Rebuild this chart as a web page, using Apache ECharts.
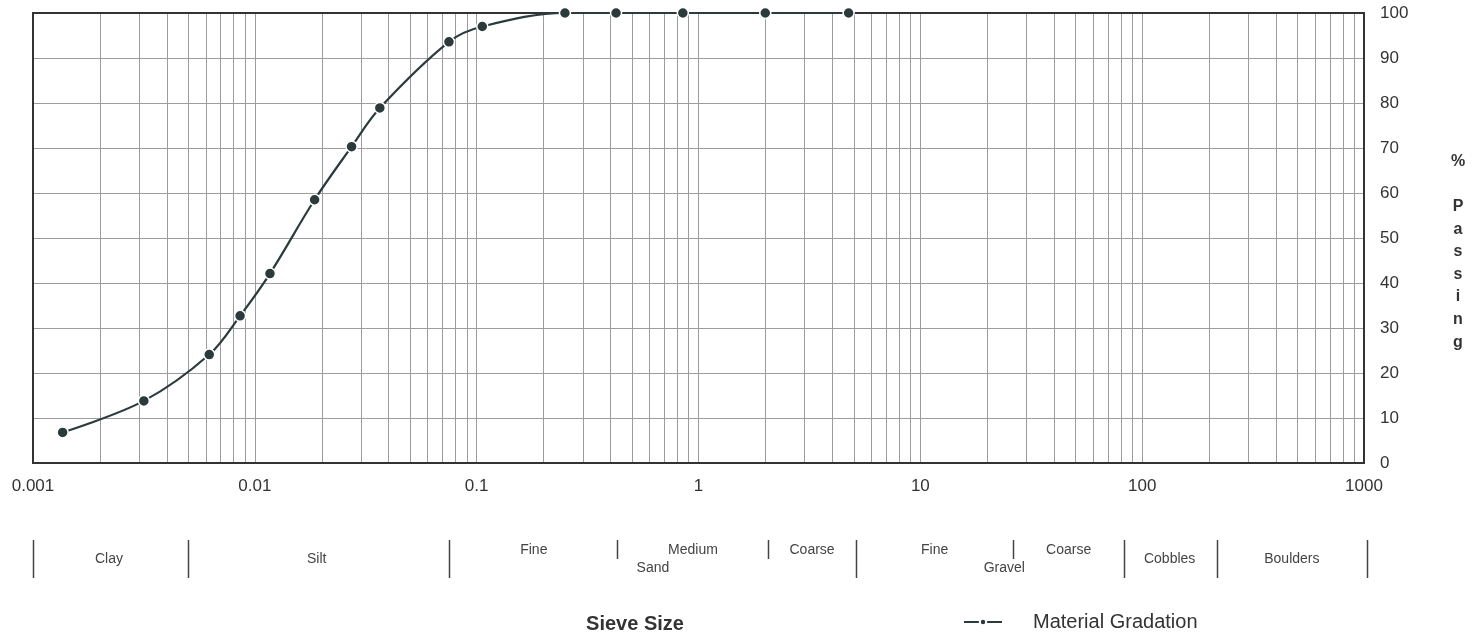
<!DOCTYPE html>
<html>
<head>
<meta charset="utf-8">
<script src="https://cdn.jsdelivr.net/npm/echarts@6/dist/echarts.min.js"></script>
<style>
  html, body { margin: 0; padding: 0; background: #fff; }
  #chart { width: 1482px; height: 634px; }
</style>
</head>
<body>
<div id="chart"></div>
<script>
// Grain sizes (mm) and percent passing
const sieveSizes = [0.00136, 0.00316, 0.00623, 0.00858, 0.0117, 0.0186, 0.0273, 0.0366, 0.075, 0.106, 0.25, 0.425, 0.85, 2.0, 4.75];
const percentPassing = [6.8, 13.8, 24.1, 32.7, 42.1, 58.5, 70.3, 78.9, 93.6, 97.0, 100, 100, 100, 100, 100];

// Axis structure
const xDecades = [0.001, 0.01, 0.1, 1, 10, 100];
const minorMultipliers = [2, 3, 4, 5, 6, 7, 8, 9];
const yTicks = [0, 10, 20, 30, 40, 50, 60, 70, 80, 90, 100];

// Soil classification strip (boundaries in mm, label centres in mm)
const zoneBoundaries = [0.001, 0.005, 0.075, 0.43, 2.05, 5.14, 26.3, 82.5, 217, 1030];
const zoneBoundaryShort = [false, false, false, true, true, false, true, false, false, false];
const zoneLabels = ['Clay', 'Silt', 'Fine', 'Medium', 'Sand', 'Coarse', 'Fine', 'Gravel', 'Coarse', 'Cobbles', 'Boulders'];
const zoneLabelAt = [0.0022, 0.019, 0.181, 0.944, 0.623, 3.25, 11.6, 23.9, 46.6, 133, 473];
const zoneLabelRow = ['mid', 'mid', 'top', 'top', 'bottom', 'top', 'top', 'bottom', 'top', 'mid', 'mid'];

const chart = echarts.init(document.getElementById('chart'), null, { renderer: 'canvas' });
const gridColor = '#9c9c9c';
const dark = '#2b3b3b';

chart.setOption({
  animation: false,
  backgroundColor: '#ffffff',
  textStyle: { fontFamily: 'Liberation Sans, Arial, sans-serif' },
  grid: {
    left: 33, right: 118, top: 13, bottom: 171,
    show: true, borderColor: '#333', borderWidth: 2, backgroundColor: 'transparent', z: 3
  },
  xAxis: {
    type: 'log', logBase: 10, min: 0.001, max: 1000,
    axisLine: { show: true, lineStyle: { color: '#333', width: 2 } },
    axisTick: { show: false },
    splitLine: { show: true, lineStyle: { color: gridColor, width: 1 } },
    axisLabel: {
      fontSize: 17, color: '#333', margin: 15,
      formatter: v => String(+v.toPrecision(3))
    }
  },
  yAxis: {
    type: 'value', position: 'right', min: 0, max: 100, interval: 10,
    axisLine: { show: true, lineStyle: { color: '#333', width: 2 } },
    axisTick: { show: false },
    splitLine: { show: true, lineStyle: { color: gridColor, width: 1 } },
    axisLabel: { fontSize: 17, color: '#333', margin: 16 }
  },
  legend: {
    left: 958, top: 607,
    itemWidth: 38, itemHeight: 8,
    textStyle: { fontSize: 20, color: '#333', padding: [0, 0, 0, 26] },
    data: ['Material Gradation']
  },
  series: [{
    name: 'Material Gradation',
    type: 'line',
    data: sieveSizes.map((s, i) => [s, percentPassing[i]]),
    smooth: 0.35,
    symbol: 'circle', symbolSize: 11,
    lineStyle: { color: dark, width: 2.2 },
    itemStyle: { color: dark, borderColor: '#fff', borderWidth: 1.5 },
    z: 5
  }]
});

const gx = v => chart.convertToPixel({ xAxisIndex: 0 }, v);
const gy = v => chart.convertToPixel({ yAxisIndex: 0 }, v);
const graphics = [];

// Minor (log) vertical grid lines placed through the x scale
const yTop = gy(yTicks[yTicks.length - 1]);
const yBot = gy(yTicks[0]);
xDecades.forEach(d => minorMultipliers.forEach(m => {
  const x = Math.round(gx(d * m)) + 0.5;
  graphics.push({
    type: 'line', silent: true, z: 0,
    shape: { x1: x, y1: yTop + 1, x2: x, y2: yBot - 1 },
    style: { stroke: gridColor, lineWidth: 1 }
  });
}));

// Classification strip & side title
zoneBoundaries.forEach((b, i) => {
  const x = Math.round(gx(b)) + 0.5;
  graphics.push({
    type: 'line', silent: true,
    shape: { x1: x, y1: 540, x2: x, y2: zoneBoundaryShort[i] ? 559 : 578 },
    style: { stroke: '#444', lineWidth: 1.5 }
  });
});
const rowY = { top: 550, mid: 559, bottom: 568 };
zoneLabels.forEach((t, i) => {
  graphics.push({
    type: 'text', silent: true,
    x: gx(zoneLabelAt[i]), y: rowY[zoneLabelRow[i]],
    style: { text: t, fontSize: 14, fill: '#444', align: 'center', verticalAlign: 'middle',
             fontFamily: 'Liberation Sans, Arial, sans-serif' }
  });
});
graphics.push({
  type: 'text', silent: true, x: 635, y: 624,
  style: { text: 'Sieve Size', fontSize: 20, fontWeight: 'bold', fill: '#333', align: 'center', verticalAlign: 'middle',
           fontFamily: 'Liberation Sans, Arial, sans-serif' }
});
graphics.push({
  type: 'text', silent: true, x: 1458, y: 150,
  style: { text: '%\n\nP\na\ns\ns\ni\nn\ng', fontSize: 16, fontWeight: 'bold', fill: '#333', align: 'center',
           verticalAlign: 'top', lineHeight: 22.6, fontFamily: 'Liberation Sans, Arial, sans-serif' }
});
chart.setOption({ graphic: graphics });
</script>
</body>
</html>
